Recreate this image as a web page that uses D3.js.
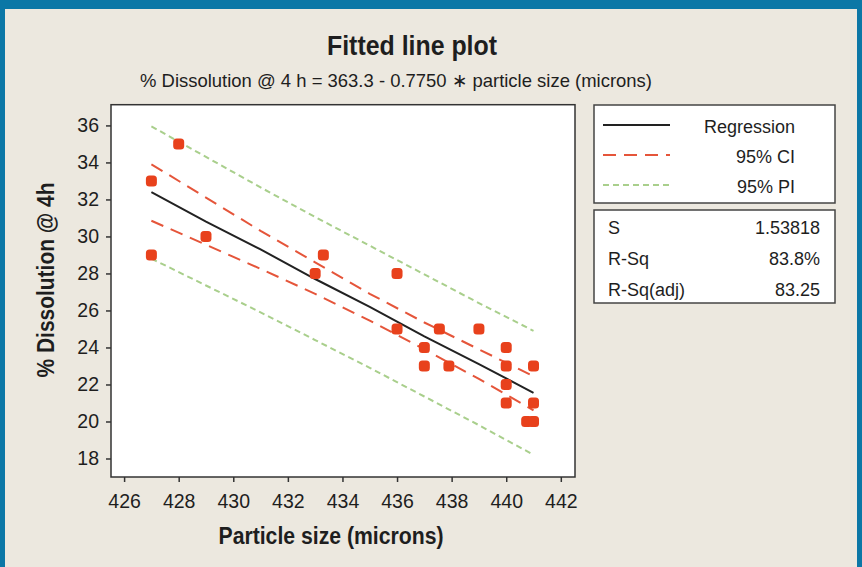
<!DOCTYPE html>
<html>
<head>
<meta charset="utf-8">
<script src="https://cdn.jsdelivr.net/npm/d3@7"></script>
<style>
  body { margin: 0; background: #ece8df; }
  svg { display: block; }
  text { font-family: "Liberation Sans", Arial, sans-serif; fill: #1e1e1e; }
</style>
</head>
<body>
<div id="chart"></div>
<script>
// observed points (particle size, % dissolution @ 4h)
const sizes = [427, 427, 428, 429, 433, 433.3, 436, 436, 437.55, 439, 437, 437, 437.9, 440, 440, 440, 440, 441, 441, 440.75, 441];
const dissolution = [33, 29, 35, 30, 28, 29, 28, 25, 25, 25, 24, 23, 23, 24, 23, 22, 21, 23, 21, 20, 20];

// fitted line and bands, read at these x positions
const bandX = [427, 429, 431, 433, 435, 437, 439, 441];
const fitted = [32.4, 30.8, 29.3, 27.7, 26.2, 24.6, 23.1, 21.55];
const ciUpper = [33.9, 32.1, 30.3, 28.6, 26.9, 25.35, 23.9, 22.45];
const ciLower = [30.85, 29.55, 28.25, 26.9, 25.45, 23.9, 22.3, 20.6];
const piUpper = [35.95, 34.3, 32.65, 31.05, 29.5, 27.95, 26.4, 24.9];
const piLower = [28.8, 27.35, 25.9, 24.4, 22.9, 21.35, 19.8, 18.2];

const xTicks = [426, 428, 430, 432, 434, 436, 438, 440, 442];
const yTicks = [18, 20, 22, 24, 26, 28, 30, 32, 34, 36];

const legendItems = ["Regression", "95% CI", "95% PI"];
const statNames = ["S", "R-Sq", "R-Sq(adj)"];
const statValues = ["1.53818", "83.8%", "83.25"];

const width = 862, height = 567;
const plot = { left: 111, top: 104.7, right: 575, bottom: 477 };

const svg = d3.select("#chart").append("svg")
    .attr("width", width)
    .attr("height", height);

// background + blue frame
svg.append("rect").attr("width", width).attr("height", height).attr("fill", "#ece8df");
svg.append("rect").attr("x", 0).attr("y", 0).attr("width", width).attr("height", 9).attr("fill", "#0b77a6");
svg.append("rect").attr("x", 0).attr("y", 0).attr("width", 5).attr("height", height).attr("fill", "#0b77a6");
svg.append("rect").attr("x", 857).attr("y", 0).attr("width", 5).attr("height", height).attr("fill", "#0b77a6");

const x = d3.scaleLinear().domain([425.52, 442.52]).range([plot.left, plot.right]);
const y = d3.scaleLinear().domain([17.0, 37.12]).range([plot.bottom, plot.top]);

// plot area
svg.append("rect")
    .attr("x", plot.left).attr("y", plot.top)
    .attr("width", plot.right - plot.left).attr("height", plot.bottom - plot.top)
    .attr("fill", "#fff");

// titles
svg.append("text")
    .attr("x", 412).attr("y", 55)
    .attr("text-anchor", "middle")
    .attr("textLength", 170).attr("lengthAdjust", "spacingAndGlyphs")
    .style("font-size", "27px").style("font-weight", "bold")
    .text("Fitted line plot");

svg.append("text")
    .attr("x", 396).attr("y", 87)
    .attr("text-anchor", "middle")
    .attr("textLength", 512).attr("lengthAdjust", "spacingAndGlyphs")
    .style("font-size", "19px")
    .text("% Dissolution @ 4 h = 363.3 - 0.7750 \u2217 particle size (microns)");

// axes
const xAxis = svg.append("g")
    .attr("transform", `translate(0,${plot.bottom})`)
    .call(d3.axisBottom(x).tickValues(xTicks).tickSize(5).tickPadding(12).tickFormat(d3.format("d")));
const yAxis = svg.append("g")
    .attr("transform", `translate(${plot.left},0)`)
    .call(d3.axisLeft(y).tickValues(yTicks).tickSize(5).tickPadding(7).tickFormat(d3.format("d")));

[xAxis, yAxis].forEach(a => {
    a.select(".domain").remove();
    a.selectAll("line").attr("stroke", "#333").attr("stroke-width", 1.5);
    a.selectAll("text").style("font-size", "19.5px").attr("fill", "#1e1e1e");
});

svg.append("text")
    .attr("x", 331).attr("y", 544)
    .attr("text-anchor", "middle")
    .attr("textLength", 225).attr("lengthAdjust", "spacingAndGlyphs")
    .style("font-size", "23px").style("font-weight", "bold")
    .text("Particle size (microns)");

svg.append("text")
    .attr("transform", "translate(54,280) rotate(-90)")
    .attr("text-anchor", "middle")
    .attr("textLength", 195).attr("lengthAdjust", "spacingAndGlyphs")
    .style("font-size", "23px").style("font-weight", "bold")
    .text("% Dissolution @ 4h");

// lines
const line = d3.line().x(d => x(d[0])).y(d => y(d[1]));
const series = [
    { vals: piUpper, color: "#a9cf8c", dash: "6,4", w: 2 },
    { vals: piLower, color: "#a9cf8c", dash: "6,4", w: 2 },
    { vals: ciUpper, color: "#e5553a", dash: "13,8", w: 2 },
    { vals: ciLower, color: "#e5553a", dash: "13,8", w: 2 },
    { vals: fitted, color: "#222", dash: null, w: 2 }
];
series.forEach(s => {
    svg.append("path")
        .datum(bandX.map((bx, i) => [bx, s.vals[i]]))
        .attr("d", line)
        .attr("fill", "none")
        .attr("stroke", s.color)
        .attr("stroke-width", s.w)
        .attr("stroke-dasharray", s.dash);
});

// points
svg.selectAll(".pt")
    .data(sizes.map((s, i) => [s, dissolution[i]]))
    .enter()
    .append("rect")
    .attr("class", "pt")
    .attr("x", d => x(d[0]) - 5.5)
    .attr("y", d => y(d[1]) - 5.5)
    .attr("width", 11).attr("height", 11)
    .attr("rx", 3.5)
    .attr("fill", "#e8411c");

// plot frame
svg.append("rect")
    .attr("x", plot.left).attr("y", plot.top)
    .attr("width", plot.right - plot.left).attr("height", plot.bottom - plot.top)
    .attr("fill", "none").attr("stroke", "#333").attr("stroke-width", 1.5);

// legend box
const legend = svg.append("g");
legend.append("rect")
    .attr("x", 594).attr("y", 105).attr("width", 241).attr("height", 98)
    .attr("fill", "#fff").attr("stroke", "#444").attr("stroke-width", 1.5);
const legendStyles = series.slice().reverse().filter((d, i) => i % 2 === 0);
legendItems.forEach((name, i) => {
    const ly = 125 + i * 30;
    const s = legendStyles[i];
    legend.append("line")
        .attr("x1", 603).attr("x2", 670).attr("y1", ly).attr("y2", ly)
        .attr("stroke", s.color).attr("stroke-width", s.w)
        .attr("stroke-dasharray", s.dash);
    legend.append("text")
        .attr("x", 795).attr("y", ly + 8)
        .attr("text-anchor", "end")
        .style("font-size", "18px")
        .text(name);
});

// stats box
const stats = svg.append("g");
stats.append("rect")
    .attr("x", 594).attr("y", 210).attr("width", 241).attr("height", 93)
    .attr("fill", "#fff").attr("stroke", "#444").attr("stroke-width", 1.5);
statNames.forEach((name, i) => {
    const sy = 234 + i * 31;
    stats.append("text").attr("x", 608).attr("y", sy).style("font-size", "18px").text(name);
    stats.append("text").attr("x", 820).attr("y", sy).attr("text-anchor", "end")
        .style("font-size", "18px").text(statValues[i]);
});
</script>
</body>
</html>
